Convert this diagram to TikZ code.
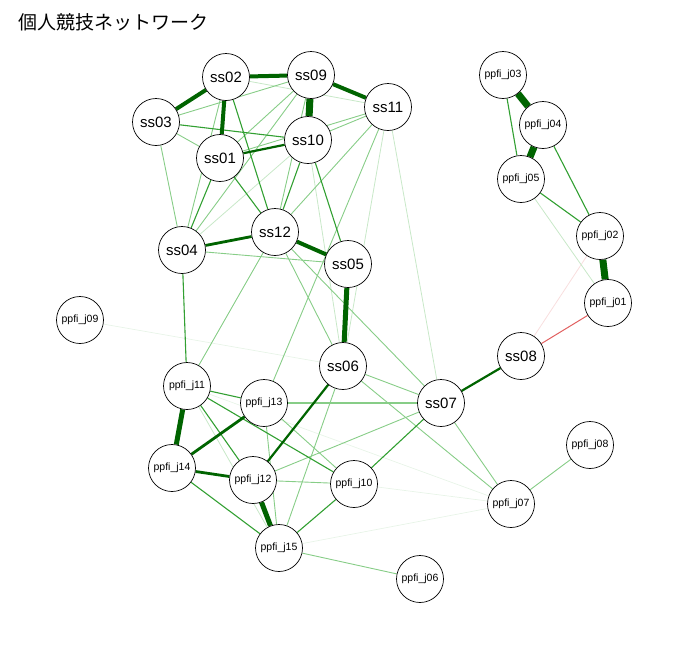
\documentclass[tikz,border=0pt]{standalone}
\usepackage{fontspec}
\setmainfont{Liberation Sans}
\newfontfamily\jpfont{Noto Sans CJK JP}
\usetikzlibrary{backgrounds}

\definecolor{gdark}{RGB}{0,100,0}
\definecolor{gmid}{RGB}{50,160,50}
\definecolor{glight}{RGB}{135,205,135}
\definecolor{gfaint}{RGB}{200,232,200}
\definecolor{gghost}{RGB}{232,244,232}
\definecolor{rmid}{RGB}{225,95,95}
\definecolor{rfaint}{RGB}{248,222,222}

\tikzset{
	ssnode/.style={circle,draw=black,fill=white,line width=0.7pt,minimum size=47pt,inner sep=0pt,font=\fontsize{15}{15}\selectfont},
	jnode/.style={ssnode,font=\fontsize{10.5}{10.5}\selectfont},
	ew7/.style={draw=gdark,line width=7pt},
	ew5/.style={draw=gdark,line width=5pt},
	ew4/.style={draw=gdark,line width=4pt},
	ew3/.style={draw=gdark,line width=2.8pt},
	ew2/.style={draw=gdark,line width=2.2pt},
	em/.style={draw=gmid,line width=1.1pt},
	el/.style={draw=glight,line width=0.9pt},
	ef/.style={draw=gfaint,line width=0.8pt},
	eg/.style={draw=gghost,line width=0.7pt},
	er/.style={draw=rmid,line width=1pt},
	erf/.style={draw=rfaint,line width=0.8pt}
}

\begin{document}
\begin{tikzpicture}[x=1pt,y=-1pt]
	\useasboundingbox (0,0) rectangle (688,654);
	\node[anchor=west,font=\jpfont\fontsize{19}{19}\selectfont] (title) at (15,22) {個人競技ネットワーク};

	% ss nodes
	\node[ssnode] (ss01) at (220,158) {ss01};
	\node[ssnode] (ss02) at (226,77) {ss02};
	\node[ssnode] (ss03) at (156,122) {ss03};
	\node[ssnode] (ss04) at (182,250) {ss04};
	\node[ssnode] (ss05) at (348,264) {ss05};
	\node[ssnode] (ss06) at (343,366) {ss06};
	\node[ssnode] (ss07) at (441,403) {ss07};
	\node[ssnode] (ss08) at (521,356) {ss08};
	\node[ssnode] (ss09) at (311,75) {ss09};
	\node[ssnode] (ss10) at (308,140) {ss10};
	\node[ssnode] (ss11) at (388,107) {ss11};
	\node[ssnode] (ss12) at (275,232) {ss12};

	% ppfi nodes
	\node[jnode] (j01) at (608,303) {ppfi\_j01};
	\node[jnode] (j02) at (600,236) {ppfi\_j02};
	\node[jnode] (j03) at (503,75) {ppfi\_j03};
	\node[jnode] (j04) at (543,125) {ppfi\_j04};
	\node[jnode] (j05) at (521,179) {ppfi\_j05};
	\node[jnode] (j06) at (420,579) {ppfi\_j06};
	\node[jnode] (j07) at (511,504) {ppfi\_j07};
	\node[jnode] (j08) at (590,445) {ppfi\_j08};
	\node[jnode] (j09) at (80,320) {ppfi\_j09};
	\node[jnode] (j10) at (354,484) {ppfi\_j10};
	\node[jnode] (j11) at (187,386) {ppfi\_j11};
	\node[jnode] (j12) at (253,480) {ppfi\_j12};
	\node[jnode] (j13) at (264,403) {ppfi\_j13};
	\node[jnode] (j14) at (172,468) {ppfi\_j14};
	\node[jnode] (j15) at (279,548) {ppfi\_j15};

	\begin{pgfonlayer}{background}
	% faint edges first
	\path[eg] (j09) edge (ss06);
	\path[eg] (j11) edge (j07);
	\path[eg] (j15) edge (j07);
	\path[eg] (j10) edge (j07);
	\path[erf] (ss08) edge (j02);
	\path[ef] (ss11) edge (ss07);
	\path[ef] (ss11) edge (ss06);
	\path[ef] (ss10) edge (ss06);
	\path[ef] (ss04) edge (ss10);
	\path[ef] (ss02) edge (ss11);
	\path[ef] (j11) edge (j15);
	\path[ef] (j05) edge (j01);

	% light edges
	\path[el] (ss03) edge (ss04);
	\path[el] (ss04) edge (ss05);
	\path[el] (ss04) edge (ss09);
	\path[el] (ss03) edge (ss01);
	\path[el] (ss03) edge (ss09);
	\path[el] (ss01) edge (ss09);
	\path[el] (ss02) edge (ss04);
	\path[el] (ss11) edge (ss10);
	\path[el] (ss11) edge (ss01);
	\path[el] (ss11) edge (ss12);
	\path[el] (ss09) edge (ss12);
	\path[el] (ss12) edge (ss06);
	\path[el] (ss12) edge (ss07);
	\path[el] (ss12) edge (j11);
	\path[el] (ss11) edge (j13);
	\path[el] (ss06) edge (ss07);
	\path[el] (ss06) edge (j07);
	\path[el] (ss06) edge (j15);
	\path[el] (ss07) edge (j12);
	\path[el] (ss07) edge (j07);
	\path[el] (j12) edge (j10);
	\path[el] (j13) edge (j10);
	\path[el] (j13) edge (j15);
	\path[el] (j15) edge (j06);
	\path[el] (j07) edge (j08);
	\path[el,line width=1.6pt] (j13) edge (ss07);

	% medium edges
	\path[em] (ss01) edge (ss04);
	\path[em] (ss03) edge (ss10);
	\path[em] (ss02) edge (ss12);
	\path[em] (ss01) edge (ss12);
	\path[em] (ss10) edge (ss05);
	\path[em] (ss10) edge (ss12);
	\path[em] (ss04) edge (j11);
	\path[em] (j11) edge (j13);
	\path[em] (j11) edge (j12);
	\path[em] (j11) edge (j10);
	\path[em] (j14) edge (j15);
	\path[em] (j10) edge (j15);
	\path[em] (j10) edge (ss07);
	\path[em] (j03) edge (j05);
	\path[em] (j04) edge (j02);
	\path[em] (j05) edge (j02);
	\path[er] (ss08) edge (j01);

	% strong edges
	\path[ew2] (ss01) edge (ss10);
	\path[ew2] (ss07) edge (ss08);
	\path[ew2] (ss06) edge (j12);
	\path[ew3] (ss04) edge (ss12);
	\path[ew3] (j14) edge (j13);
	\path[ew3] (j14) edge (j12);
	\path[ew4] (ss02) edge (ss09);
	\path[ew4] (ss02) edge (ss03);
	\path[ew4] (ss02) edge (ss01);
	\path[ew4] (ss09) edge (ss11);
	\path[ew4] (ss12) edge (ss05);
	\path[ew5] (ss05) edge (ss06);
	\path[ew5] (j11) edge (j14);
	\path[ew5] (j12) edge (j15);
	\path[ew7] (ss09) edge (ss10);
	\path[ew7] (j03) edge (j04);
	\path[ew7] (j04) edge (j05);
	\path[ew7] (j02) edge (j01);
	\end{pgfonlayer}
\end{tikzpicture}
\end{document}
